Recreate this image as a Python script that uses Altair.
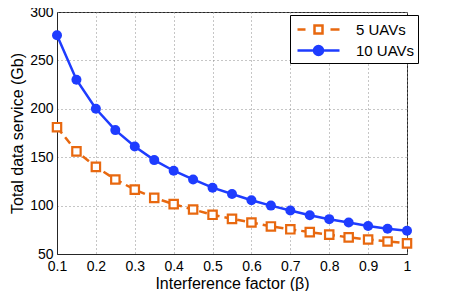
import altair as alt
import pandas as pd

beta = [0.1, 0.15, 0.2, 0.25, 0.3, 0.35, 0.4, 0.45, 0.5, 0.55,
        0.6, 0.65, 0.7, 0.75, 0.8, 0.85, 0.9, 0.95, 1.0]
uav10 = [276, 230, 200, 178, 161, 147, 136, 127, 118.5, 112,
         105.5, 100, 95, 90, 86, 82.5, 79, 76, 74]
uav5 = [181, 156, 140, 127, 116.5, 108, 101.5, 96, 90.5, 86.3,
        82.5, 78.5, 75.5, 72.6, 70, 67.2, 65, 63, 61]
series = ["5 UAVs", "10 UAVs"]
colors = ["#E8680F", "#1E3CFF"]
x_ticks = [0.1, 0.2, 0.3, 0.4, 0.5, 0.6, 0.7, 0.8, 0.9, 1.0]
y_ticks = [50, 100, 150, 200, 250, 300]

df = pd.concat([
    pd.DataFrame({"beta": beta, "value": uav5, "series": series[0]}),
    pd.DataFrame({"beta": beta, "value": uav10, "series": series[1]}),
])
df5 = df[df.series == series[0]]
df10 = df[df.series == series[1]]

FONT = "Liberation Sans"

# legend symbols (unit = 10 px): line 42 px wide with marker in the middle
orange_sym = "M-2.1,0H-1.3M1.2,0H2.1M-0.4,-0.4H0.4V0.4H-0.4Z"
blue_sym = "M-2.1,0H2.1M0.45,0A0.45,0.45 0 1,1 -0.45,0A0.45,0.45 0 1,1 0.45,0Z"

x = alt.X("beta:Q", scale=alt.Scale(domain=[0.1, 1.0], nice=False, zero=False),
          axis=alt.Axis(values=x_ticks, format="~g", title="Interference factor (β)"))
y = alt.Y("value:Q", scale=alt.Scale(domain=[50, 300], nice=False, zero=False),
          axis=alt.Axis(values=y_ticks, title="Total data service (Gb)"))

line5 = alt.Chart(df5).mark_line(strokeWidth=2.5, stroke=colors[0], strokeDash=[8, 5]).encode(x=x, y=y)
line10 = alt.Chart(df10).mark_line(strokeWidth=2.5, stroke=colors[1]).encode(x=x, y=y)

pts5 = alt.Chart(df5).mark_point(
    shape="square", filled=True, fill="#ffffff", stroke=colors[0],
    strokeWidth=2.2, size=70, opacity=1,
).encode(x=x, y=y)

pts10 = alt.Chart(df10).mark_circle(
    size=100, color=colors[1], opacity=1,
).encode(x=x, y=y)

legend = alt.Legend(
    title=None,
    orient="none",
    legendX=233,
    legendY=3,
    strokeColor="#000000",
    fillColor="#ffffff",
    padding=3,
    rowPadding=0,
    symbolSize=400,
    symbolOffset=14,
    symbolStrokeWidth=2.5,
    symbolOpacity=1,
    labelFont=FONT,
    labelFontSize=15,
    labelColor="#000000",
    labelOffset=26,
)

legend_layer = alt.Chart(df).mark_point(opacity=0, filled=True, size=0).encode(
    x=x, y=y,
    shape=alt.Shape("series:N", scale=alt.Scale(domain=series, range=[orange_sym, blue_sym]), legend=legend),
    fill=alt.Fill("series:N", scale=alt.Scale(domain=series, range=["#ffffff", colors[1]]), legend=legend),
    stroke=alt.Stroke("series:N", scale=alt.Scale(domain=series, range=colors), legend=legend),
)

chart = alt.layer(line5, line10, pts5, pts10, legend_layer).properties(
    width=350, height=242,
    autosize=alt.AutoSizeParams(type="none"),
    padding={"left": 49, "top": 4, "right": 37, "bottom": 37},
).configure_view(
    stroke="#262626", strokeWidth=1,
).configure_axis(
    labelFont=FONT, titleFont=FONT,
    labelFontSize=14, titleFontSize=16,
    labelColor="#000000", titleColor="#000000",
    titleFontWeight="normal",
    domainColor="#262626", domainWidth=1,
    ticks=False, labelFlush=False,
    grid=True, gridColor="#8c8c8c", gridDash=[1, 3], gridWidth=1,
).configure_axisX(
    labelPadding=5, titlePadding=2,
).configure_axisY(
    labelPadding=4, titlePadding=4,
)

chart.save("out.html", embed_options={"renderer": "svg", "actions": False})
